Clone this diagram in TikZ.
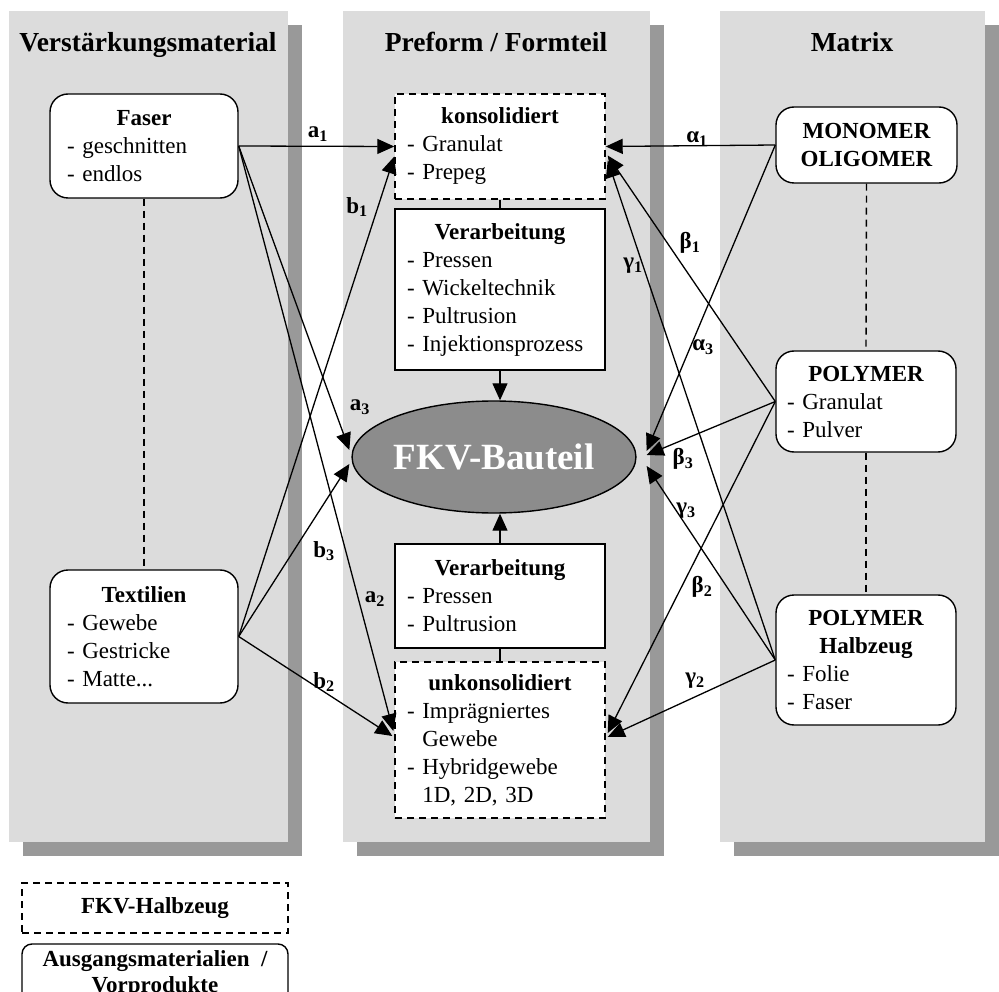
\documentclass[tikz,border=0pt]{standalone}
\usepackage{fontspec}
\setmainfont{Liberation Serif}
\newfontfamily\grk{Liberation Serif}
\usetikzlibrary{arrows.meta,calc,shapes.geometric}

\definecolor{panelgray}{RGB}{220,220,220}
\definecolor{dropgray}{RGB}{153,153,153}
\definecolor{coregray}{RGB}{140,140,140}

% centred bold heading line inside a left-aligned box
\newcommand\hd[1]{\makebox[\linewidth][c]{\bfseries #1}}
% index labels on the connectors
\newcommand\lat[2]{\textbf{#1\textsubscript{#2}}}
\newcommand\gre[2]{{\grk\bfseries #1\textsubscript{#2}}}

\tikzset{
  base/.style={draw=black, line width=1.4pt, fill=white,
    font=\fontsize{23}{28}\selectfont, align=left, inner ysep=4pt},
  rawbox/.style={base, rounded corners=18pt, inner xsep=17pt},
  halfbox/.style={base, dash pattern=on 7pt off 5pt, inner xsep=12pt},
  procbox/.style={base, inner xsep=12pt},
  conn/.style={line width=1.3pt, -{Triangle[length=17pt,width=15pt]}},
  link/.style={line width=1.4pt},
  dlink/.style={line width=1.4pt, dash pattern=on 7pt off 5pt},
  lbl/.style={font=\fontsize{23}{28}\selectfont, inner sep=0pt},
  ttl/.style={font=\fontsize{27.5}{32}\selectfont\bfseries, anchor=base, inner sep=0pt},
}

\begin{document}
\begin{tikzpicture}[x=1pt,y=-1pt]
\useasboundingbox (0,0) rectangle (999,992);

% three columns with drop shadows
\fill[dropgray] (23,25) rectangle (302,856);
\fill[panelgray] (9,11) rectangle (288,842);
\fill[dropgray] (357,25) rectangle (664,856);
\fill[panelgray] (343,11) rectangle (650,842);
\fill[dropgray] (734,25) rectangle (999,856);
\fill[panelgray] (720,11) rectangle (985,842);

% column headings
\node[ttl] (t1) at (148,52) {Verstärkungsmaterial};
\node[ttl] (t2) at (496,52) {Preform / Formteil};
\node[ttl] (t3) at (852,52) {Matrix};

% reinforcement
\node[rawbox, text width=154pt, minimum height=104pt] (faser) at (144,146)
  {\hd{Faser}\\- geschnitten\\- endlos};
\node[rawbox, text width=154pt, minimum height=133pt] (textil) at (144,636.5)
  {\hd{Textilien}\\- Gewebe\\- Gestricke\\- Matte...};

% preform / part
\node[halfbox, text width=186pt, minimum height=105pt] (kons) at (500,146.5)
  {\hd{konsolidiert}\\- Granulat\\- Prepeg};
\node[procbox, text width=186pt, minimum height=161pt] (proc1) at (500,289.5)
  {\hd{Verarbeitung}\\- Pressen\\- Wickeltechnik\\- Pultrusion\\- Injektionsprozess};
\node[ellipse, draw=black, line width=1.4pt, fill=coregray, minimum width=256pt,
  minimum height=112pt, inner sep=0pt, text=white,
  font=\fontsize{37}{40}\selectfont\bfseries] (ell) at (494,457) {FKV-Bauteil};
\node[procbox, text width=186pt, minimum height=104pt] (proc2) at (500,596)
  {\hd{Verarbeitung}\\- Pressen\\- Pultrusion};
\node[halfbox, text width=186pt, minimum height=156pt] (unk) at (500,740)
  {\hd{unkonsolidiert}\\- Imprägniertes\\\phantom{- }Gewebe\\- Hybridgewebe\\\phantom{- }1D, 2D, 3D};

% matrix
\node[rawbox, inner xsep=11pt, text width=159pt, minimum height=76pt,
  align=center, font=\fontsize{23}{28}\selectfont\bfseries] (mono) at (866.5,145)
  {MONOMER\\OLIGOMER};
\node[rawbox, inner xsep=11pt, text width=158pt, minimum height=101pt] (poly) at (866,401.5)
  {\hd{POLYMER}\\- Granulat\\- Pulver};
\node[rawbox, inner xsep=11pt, text width=158pt, minimum height=130pt] (halb) at (866,660)
  {\hd{POLYMER}\\\hd{Halbzeug}\\- Folie\\- Faser};

% legend
\node[halfbox, minimum width=266pt, minimum height=50pt, align=center] (leg1) at (155,908)
  {\textbf{FKV-Halbzeug}};
\node[base, rounded corners=10pt, minimum width=266pt, minimum height=60pt, align=center,
  font=\fontsize{23}{26}\selectfont\bfseries] (leg2) at (155,974)
  {Ausgangsmaterialien~~/\\Vorprodukte};

% column-internal links
\draw[dlink] (faser.south) -- (textil.north);
\draw[dlink] (mono.south) -- (poly.north);
\draw[dlink] (poly.south) -- (halb.north);
\draw[link] (kons.south) -- (proc1.north);
\draw[link] (proc2.south) -- (unk.north);
\draw[conn] (proc1.south) -- (proc1.south |- ell.north);
\draw[conn] (proc2.north) -- (proc2.north |- ell.south);

% reinforcement paths
\draw[conn] (faser.east) -- (kons.west);
\draw[conn] (faser.east) -- ($(ell.west)+(-2,-7)$);
\draw[conn] (faser.east) -- ($(unk.west)+(-1,-9)$);
\draw[conn] (textil.east) -- ($(kons.west)+(0,10)$);
\draw[conn] (textil.east) -- ($(ell.west)+(-2,7)$);
\draw[conn] (textil.east) -- ($(unk.west)+(-2,-4)$);

% matrix paths
\draw[conn] (mono.west) -- (kons.east);
\draw[conn] (mono.west) -- ($(ell.east)+(10,-6)$);
\draw[conn] (poly.west) -- ($(kons.east)+(2,9)$);
\draw[conn] (poly.west) -- ($(ell.east)+(10,-2)$);
\draw[conn] (poly.west) -- ($(unk.east)+(2,-7)$);
\draw[conn] (halb.west) -- ($(kons.east)+(2,14)$);
\draw[conn] (halb.west) -- ($(ell.east)+(10,9)$);
\draw[conn] (halb.west) -- ($(unk.east)+(2,-3)$);

% path labels
\node[lbl] (la1) at (318,134) {\lat{a}{1}};
\node[lbl] (lb1) at (357,207) {\lat{b}{1}};
\node[lbl] (la3) at (360,407) {\lat{a}{3}};
\node[lbl] (lb3) at (324,551) {\lat{b}{3}};
\node[lbl] (la2) at (375,599) {\lat{a}{2}};
\node[lbl] (lb2) at (324,682) {\lat{b}{2}};
\node[lbl] (lal1) at (697,139) {\gre{α}{1}};
\node[lbl] (lbe1) at (690,243) {\gre{β}{1}};
\node[lbl] (lga1) at (633,266) {\gre{γ}{1}};
\node[lbl] (lal3) at (703,347) {\gre{α}{3}};
\node[lbl] (lbe3) at (683,459) {\gre{β}{3}};
\node[lbl] (lga3) at (686,511) {\gre{γ}{3}};
\node[lbl] (lbe2) at (702,587) {\gre{β}{2}};
\node[lbl] (lga2) at (695,681) {\gre{γ}{2}};
\end{tikzpicture}
\end{document}
